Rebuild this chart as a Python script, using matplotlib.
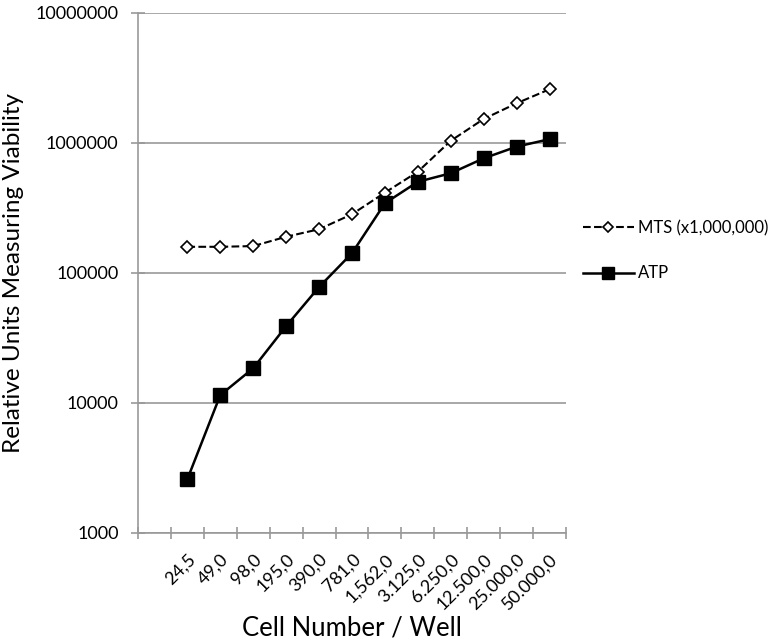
import numpy as np
import matplotlib
matplotlib.use("Agg")
import matplotlib.pyplot as plt
from matplotlib.ticker import FixedLocator, NullLocator

plt.rcParams['font.family'] = ['Lato', 'DejaVu Sans']

# cell number per well (first category left empty as in the original)
cells = ["", "24,5", "49,0", "98,0", "195,0", "390,0", "781,0", "1,562,0",
         "3.125,0", "6.250,0", "12.500,0", "25.000,0", "50.000,0"]

mts = [159000, 159000, 161000, 190000, 217000, 283000, 415000, 601000,
       1040000, 1530000, 2020000, 2590000]
atp = [2590, 11500, 18500, 39000, 78000, 142000, 344000, 503000,
       585000, 762000, 937000, 1070000]

x = np.arange(1, len(cells))

fig = plt.figure(figsize=(7.83, 6.42), dpi=100)
ax = fig.add_axes([0.1762, 0.1698, 0.5467, 0.81])

ax.plot(x, mts, ls='--', color='black', lw=1.5, marker='D', ms=6.5,
        mfc='white', mec='black', mew=1.2, label="MTS (x1,000,000)", zorder=3)
ax.plot(x, atp, ls='-', color='black', lw=1.8, marker='s', ms=10,
        mfc='black', mec='black', label="ATP", zorder=3)

ax.set_yscale('log')
ax.set_ylim(1000, 10000000)
ax.set_xlim(-0.5, len(cells) - 0.5)

ax.yaxis.set_major_locator(FixedLocator([1e3, 1e4, 1e5, 1e6, 1e7]))
ax.yaxis.set_minor_locator(NullLocator())
ax.set_yticklabels(["1000", "10000", "100000", "1000000", "10000000"], fontsize=13)
ax.grid(axis='y', color='#999999', lw=1.2)
ax.set_axisbelow(True)

ax.set_xticks(np.arange(len(cells)))
ax.set_xticklabels(cells, rotation=45, ha='right', rotation_mode='anchor', fontsize=13)
ax.set_xticks(np.arange(-0.5, len(cells)), minor=True)
ax.tick_params(axis='x', which='major', length=0, pad=13)
ax.tick_params(axis='x', which='minor', length=8, direction='inout', color='#999999', width=1.2)
ax.tick_params(axis='y', length=10, direction='inout', color='#999999', width=1.2, pad=9)

for s in ['top', 'right']:
    ax.spines[s].set_visible(False)
for s in ['left', 'bottom']:
    ax.spines[s].set_color('#999999')
    ax.spines[s].set_linewidth(1.2)

ax.set_xlabel("Cell Number / Well", fontsize=18.5, labelpad=2)
ax.set_ylabel("Relative Units Measuring Viability", fontsize=17.5, labelpad=8)

fig.legend(loc='upper left', bbox_to_anchor=(0.744, 0.657), frameon=False,
           borderaxespad=0, borderpad=0, fontsize=12, handlelength=3.1,
           labelspacing=1.75, handletextpad=0.25, markerscale=0.85)

fig.savefig("out.png", dpi=100)
